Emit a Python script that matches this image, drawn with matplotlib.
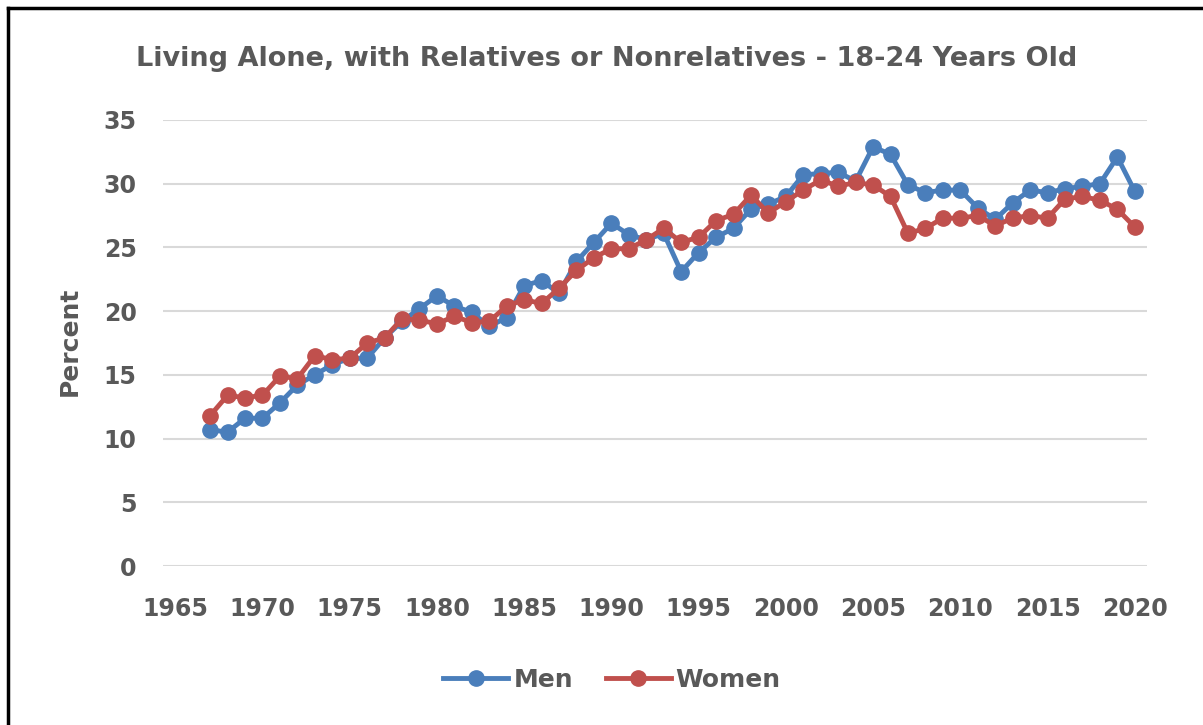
from matplotlib import pyplot as plt
from matplotlib.lines import Line2D
import numpy as np

years = list(range(1967, 2021))

men = [10.7, 10.5, 11.6, 11.6, 12.8, 14.2, 15.0, 15.8, 16.3, 16.3,
       17.9, 19.2, 20.2, 21.2, 20.4, 19.9, 18.8, 19.5, 22.0, 22.4,
       21.4, 23.9, 25.4, 26.9, 26.0, 25.6, 26.1, 23.1, 24.6, 25.8,
       26.5, 28.0, 28.4, 29.0, 30.7, 30.8, 30.9, 30.2, 32.9, 32.3,
       29.9, 29.3, 29.5, 29.5, 28.1, 27.2, 28.5, 29.5, 29.3, 29.6,
       29.8, 30.0, 32.1, 29.4]

women = [11.8, 13.4, 13.2, 13.4, 14.9, 14.7, 16.5, 16.2, 16.3, 17.5,
         17.9, 19.4, 19.3, 19.0, 19.6, 19.1, 19.2, 20.4, 20.9, 20.6,
         21.8, 23.2, 24.2, 24.9, 24.9, 25.6, 26.5, 25.4, 25.8, 27.1,
         27.6, 29.1, 27.7, 28.6, 29.5, 30.3, 29.8, 30.1, 29.9, 29.0,
         26.1, 26.5, 27.3, 27.3, 27.5, 26.7, 27.3, 27.5, 27.3, 28.8,
         29.0, 28.7, 28.0, 26.6]

x_ticks = list(range(1965, 2021, 5))
y_ticks = list(range(0, 36, 5))

blue = '#4A7EBB'
red = '#C0504D'
grey = '#595959'

plt.rcParams['font.family'] = ['DejaVu Sans']

fig = plt.figure(figsize=(12.03, 7.25), dpi=100)
ax = fig.add_axes([163 / 1203, 159 / 725, 984 / 1203, 446 / 725])

ax.plot(years, men, color=blue, lw=3.5, marker='o', ms=11, label='Men', zorder=3)
ax.plot(years, women, color=red, lw=3.5, marker='o', ms=11, label='Women', zorder=4)

ax.set_xlim(1964.3, 2020.7)
ax.set_ylim(0, 35)
ax.set_xticks(x_ticks)
ax.set_yticks(y_ticks)
ax.tick_params(length=0, colors=grey, labelsize=17)
ax.tick_params(axis='y', pad=19)
ax.tick_params(axis='x', pad=22)
for lab in ax.get_xticklabels() + ax.get_yticklabels():
    lab.set_fontweight('bold')

ax.grid(axis='y', color='#D9D9D9', lw=1.5)
ax.set_axisbelow(True)
for s in ax.spines.values():
    s.set_visible(False)

fig.text(70 / 1203, 1 - 341 / 725, 'Percent', rotation=90, ha='center', va='center',
         fontsize=18, fontweight='bold', color=grey)

fig.text(607 / 1203, 1 - 59 / 725, 'Living Alone, with Relatives or Nonrelatives - 18-24 Years Old',
         ha='center', va='center', fontsize=19.5, fontweight='bold', color=grey)

leg = fig.legend(loc='center', bbox_to_anchor=(612 / 1203, 1 - 680 / 725), ncol=2,
                 frameon=False, fontsize=18, handlelength=2.6, handletextpad=0.2,
                 columnspacing=1.3)
for t in leg.get_texts():
    t.set_color(grey)
    t.set_fontweight('bold')

# black frame on the top and left edges
fig.add_artist(Line2D([8 / 1203, 8 / 1203], [0, 1 - 8 / 725], color='black', lw=2.5))
fig.add_artist(Line2D([8 / 1203, 1], [1 - 8 / 725, 1 - 8 / 725], color='black', lw=2.5))

plt.savefig('out.png', dpi=100)
